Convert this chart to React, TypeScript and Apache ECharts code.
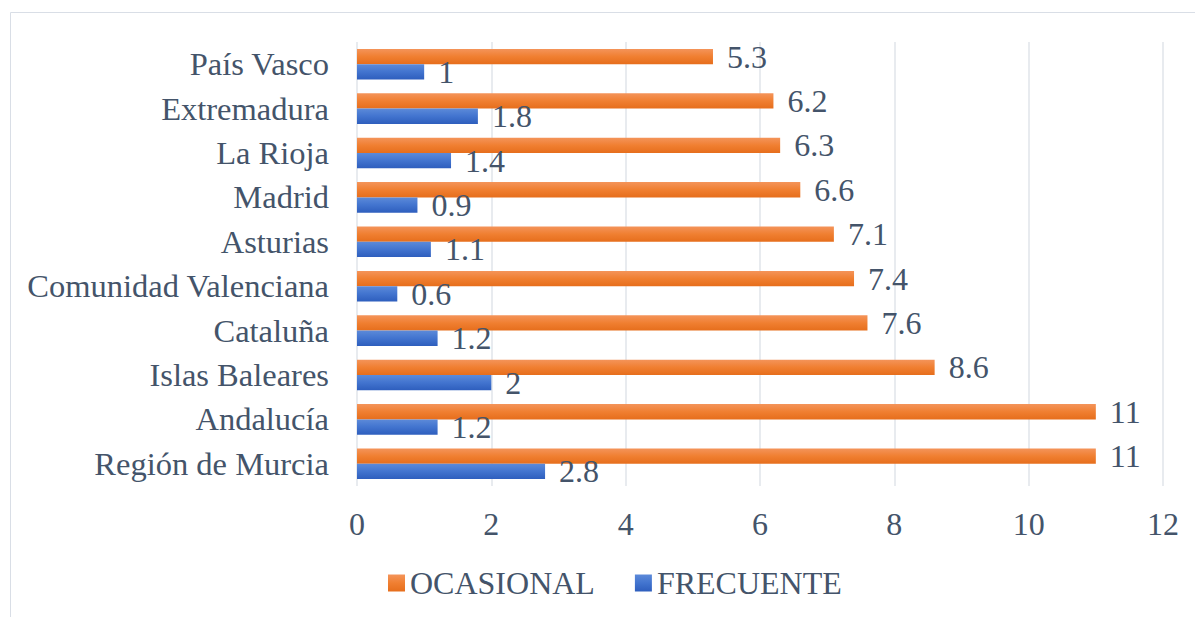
import React, { useEffect, useRef } from "react";
import * as echarts from "echarts";

const categories = [
  "Región de Murcia",
  "Andalucía",
  "Islas Baleares",
  "Cataluña",
  "Comunidad Valenciana",
  "Asturias",
  "Madrid",
  "La Rioja",
  "Extremadura",
  "País Vasco",
];
const ocasional = [11, 11, 8.6, 7.6, 7.4, 7.1, 6.6, 6.3, 6.2, 5.3];
const frecuente = [2.8, 1.2, 2, 1.2, 0.6, 1.1, 0.9, 1.4, 1.8, 1];
const legendNames = ["OCASIONAL", "FRECUENTE"];

const FONT = "Liberation Serif";
const TEXT = "#44546A";

export default function App() {
  const ref = useRef<HTMLDivElement>(null);
  useEffect(() => {
    document.body.style.margin = "0";
    const chart = echarts.init(ref.current!, null, { renderer: "svg" });
    const orange = new echarts.graphic.LinearGradient(0, 0, 0, 1, [
      { offset: 0, color: "#F4945A" },
      { offset: 0.5, color: "#F07F31" },
      { offset: 1, color: "#E66E1C" },
    ]);
    const blue = new echarts.graphic.LinearGradient(0, 0, 0, 1, [
      { offset: 0, color: "#5C8AD9" },
      { offset: 0.5, color: "#4274CF" },
      { offset: 1, color: "#2E5EBD" },
    ]);
    const mkLabel = () => ({
      show: true,
      position: "right",
      distance: 14,
      fontFamily: FONT,
      fontSize: 32,
      color: TEXT,
    });
    chart.setOption({
      animation: false,
      textStyle: { fontFamily: FONT },
      graphic: [
        {
          type: "rect",
          shape: { x: 10.5, y: 12.5, width: 1200, height: 700 },
          style: { fill: "none", stroke: "#D9DEE6", lineWidth: 1 },
          silent: true,
        },
      ],
      grid: { left: 357, right: 32, top: 42, bottom: 131, containLabel: false },
      legend: {
        data: legendNames,
        left: 388,
        top: 567,
        padding: 0,
        itemWidth: 17,
        itemHeight: 17,
        itemGap: 40,
        icon: "rect",
        textStyle: { fontFamily: FONT, fontSize: 32, color: TEXT },
      },
      xAxis: {
        type: "value",
        min: 0,
        max: 12,
        interval: 2,
        axisLine: { show: false },
        axisTick: { show: false },
        splitLine: { show: true, lineStyle: { color: "#E0E4EA", width: 1.5 } },
        axisLabel: { fontFamily: FONT, fontSize: 32, color: TEXT, margin: 22 },
      },
      yAxis: {
        type: "category",
        data: categories,
        axisLine: { show: false },
        axisTick: { show: false },
        axisLabel: { fontFamily: FONT, fontSize: 32.5, color: TEXT, margin: 28 },
      },
      series: [
        {
          name: "OCASIONAL",
          type: "bar",
          data: ocasional,
          barGap: "0%",
          barCategoryGap: "31%",
          itemStyle: { color: orange },
          label: mkLabel(),
        },
        {
          name: "FRECUENTE",
          type: "bar",
          data: frecuente,
          barGap: "0%",
          barCategoryGap: "31%",
          itemStyle: { color: blue },
          label: mkLabel(),
        },
      ],
    });
    return () => chart.dispose();
  }, []);
  return <div ref={ref} style={{ width: 1195, height: 617 }} />;
}
